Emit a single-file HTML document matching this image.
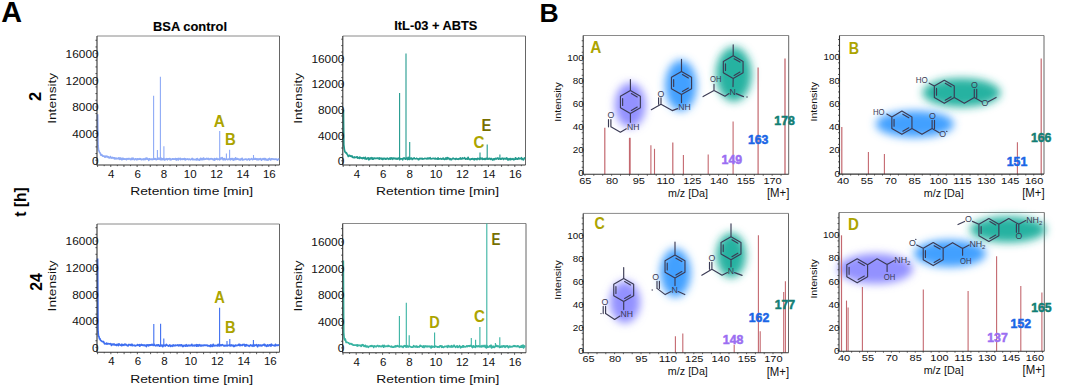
<!DOCTYPE html>
<html><head><meta charset="utf-8"><style>
html,body{margin:0;padding:0;background:#fff;overflow:hidden}
svg{display:block}
text{font-family:"Liberation Sans", sans-serif}
</style></head><body>
<svg width="1065" height="386" viewBox="0 0 1065 386">
<defs><filter id="blur" x="-50%" y="-50%" width="200%" height="200%"><feGaussianBlur stdDeviation="4.0"/></filter></defs>
<text x="1.30" y="22.00" font-size="29.5" text-anchor="start" font-weight="bold" fill="#000" textLength="20.80" lengthAdjust="spacingAndGlyphs">A</text>
<text x="539.60" y="21.80" font-size="26.3" text-anchor="start" font-weight="bold" fill="#000" textLength="19.20" lengthAdjust="spacingAndGlyphs">B</text>
<text x="153.00" y="31.00" font-size="13" text-anchor="start" font-weight="bold" fill="#000" stroke="#000" stroke-width="0.15" textLength="74.00" lengthAdjust="spacingAndGlyphs">BSA control</text>
<text x="394.30" y="30.10" font-size="13" text-anchor="start" font-weight="bold" fill="#000" stroke="#000" stroke-width="0.15" textLength="83.00" lengthAdjust="spacingAndGlyphs">ItL-03 + ABTS</text>
<text x="0" y="0" font-size="16.5" text-anchor="middle" font-weight="bold" fill="#000" transform="translate(41.30,96.50) rotate(-90)">2</text>
<text x="0" y="0" font-size="16.5" text-anchor="middle" font-weight="bold" fill="#000" transform="translate(41.80,282.00) rotate(-90)" textLength="17.50" lengthAdjust="spacingAndGlyphs">24</text>
<text x="0" y="0" font-size="16" text-anchor="middle" font-weight="bold" fill="#000" transform="translate(26.00,202.00) rotate(-90)" textLength="29.40" lengthAdjust="spacingAndGlyphs">t [h]</text>
<path d="M97,36 H279.5" fill="none" stroke="#8a8a8a" stroke-width="1"/><path d="M279.5,36 V165" fill="none" stroke="#666" stroke-width="1"/>
<path d="M97.60,114.20 L98.00,145.20 98.50,150.03 99.00,150.97 99.49,152.20 99.99,152.76 100.49,153.96 100.99,155.16 101.49,154.70 101.99,155.03 102.49,155.91 102.98,156.13 103.48,156.25 103.98,155.94 104.48,156.58 104.98,157.11 105.48,156.24 105.98,156.82 106.48,156.22 106.97,156.64 107.47,156.47 107.97,157.37 108.47,156.95 108.97,157.80 109.47,157.82 109.97,157.72 110.46,156.63 110.96,157.68 111.46,157.99 111.96,158.13 112.46,157.36 112.96,157.94 113.46,157.74 113.95,157.88 114.45,158.86 114.95,157.96 115.45,158.39 115.95,158.89 116.45,158.19 116.95,158.46 117.45,158.61 117.94,158.62 118.44,158.00 118.94,158.68 119.44,159.35 119.94,157.92 120.44,159.15 120.94,158.80 121.43,158.44 121.93,159.79 122.43,159.19 122.93,158.23 123.43,158.88 123.93,159.15 124.43,158.78 124.92,159.24 125.42,158.88 125.92,159.26 126.42,159.66 126.92,158.61 127.42,159.06 127.92,158.74 128.41,159.05 128.91,158.40 129.41,158.71 129.91,158.92 130.41,159.47 130.91,159.60 131.41,158.38 131.91,158.65 132.40,159.38 132.90,158.07 133.40,158.84 133.90,159.03 134.40,159.71 134.90,159.43 135.40,158.93 135.89,158.91 136.39,158.98 136.89,159.87 137.39,158.90 137.89,158.96 138.39,159.30 138.89,159.06 139.38,159.03 139.88,158.57 140.38,159.13 140.88,158.92 141.38,159.72 141.88,159.47 142.38,159.13 142.88,159.48 143.37,158.98 143.87,159.68 144.37,159.15 144.87,159.45 145.37,158.51 145.87,159.34 146.37,158.32 146.86,158.15 147.36,159.02 147.86,158.72 148.36,159.25 148.86,160.29 149.36,158.76 149.86,158.86 150.35,159.28 150.85,159.42 151.35,159.09 151.85,159.08 152.35,159.53 152.85,159.44 153.35,158.67 153.84,159.14 154.34,159.20 154.84,158.66 155.34,159.32 155.84,158.76 156.34,159.67 156.84,159.28 157.34,159.23 157.83,158.89 158.33,159.13 158.83,158.19 159.33,158.62 159.83,159.37 160.33,158.13 160.83,159.61 161.32,158.32 161.82,159.57 162.32,158.77 162.82,159.58 163.32,159.26 163.82,158.43 164.32,159.82 164.81,159.92 165.31,159.16 165.81,159.06 166.31,159.12 166.81,158.71 167.31,159.74 167.81,158.92 168.30,159.17 168.80,158.80 169.30,158.88 169.80,158.56 170.30,159.83 170.80,159.12 171.30,159.68 171.80,159.20 172.29,158.85 172.79,159.03 173.29,158.92 173.79,159.20 174.29,159.01 174.79,159.05 175.29,158.51 175.78,158.79 176.28,160.03 176.78,158.86 177.28,158.67 177.78,159.37 178.28,159.90 178.78,158.47 179.27,159.09 179.77,158.88 180.27,158.32 180.77,159.57 181.27,159.19 181.77,159.23 182.27,158.82 182.77,159.43 183.26,158.93 183.76,159.13 184.26,158.65 184.76,158.59 185.26,159.87 185.76,158.95 186.26,159.35 186.75,159.18 187.25,158.98 187.75,158.95 188.25,159.51 188.75,159.05 189.25,159.12 189.75,159.21 190.24,159.79 190.74,159.54 191.24,159.39 191.74,158.92 192.24,158.51 192.74,159.67 193.24,159.68 193.73,159.13 194.23,159.47 194.73,159.59 195.23,159.62 195.73,159.66 196.23,158.97 196.73,159.96 197.23,158.58 197.72,159.63 198.22,159.45 198.72,159.64 199.22,160.14 199.72,159.94 200.22,158.63 200.72,158.36 201.21,159.61 201.71,158.69 202.21,159.19 202.71,159.62 203.21,158.38 203.71,158.14 204.21,159.33 204.70,159.22 205.20,159.08 205.70,159.22 206.20,158.77 206.70,158.44 207.20,159.12 207.70,158.71 208.20,158.38 208.69,159.45 209.19,159.17 209.69,159.40 210.19,158.71 210.69,158.87 211.19,158.70 211.69,158.76 212.18,159.30 212.68,158.81 213.18,159.38 213.68,159.37 214.18,160.21 214.68,158.50 215.18,159.64 215.67,159.16 216.17,159.19 216.67,158.48 217.17,158.97 217.67,159.57 218.17,159.16 218.67,159.24 219.16,159.05 219.66,159.78 220.16,159.19 220.66,158.10 221.16,158.85 221.66,158.22 222.16,157.57 222.66,158.93 223.15,159.87 223.65,159.22 224.15,158.61 224.65,158.73 225.15,159.77 225.65,159.28 226.15,159.22 226.64,159.17 227.14,159.22 227.64,159.60 228.14,159.48 228.64,159.31 229.14,158.68 229.64,159.46 230.13,158.86 230.63,159.75 231.13,158.56 231.63,159.13 232.13,159.20 232.63,158.54 233.13,160.06 233.62,159.93 234.12,158.97 234.62,159.59 235.12,159.39 235.62,157.89 236.12,159.33 236.62,159.17 237.12,159.24 237.61,158.66 238.11,159.07 238.61,159.11 239.11,159.79 239.61,159.37 240.11,159.20 240.61,159.96 241.10,158.92 241.60,159.01 242.10,158.29 242.60,159.98 243.10,159.68 243.60,159.66 244.10,159.53 244.59,159.26 245.09,159.31 245.59,159.07 246.09,159.10 246.59,159.23 247.09,159.96 247.59,159.48 248.09,159.17 248.58,158.91 249.08,158.88 249.58,160.00 250.08,159.45 250.58,159.23 251.08,159.03 251.58,158.65 252.07,159.17 252.57,159.64 253.07,159.00 253.57,159.09 254.07,159.09 254.57,159.25 255.07,158.40 255.56,159.08 256.06,158.77 256.56,159.64 257.06,158.81 257.56,159.49 258.06,159.96 258.56,159.04 259.05,158.90 259.55,159.30 260.05,159.20 260.55,158.70 261.05,159.43 261.55,160.21 262.05,159.07 262.55,159.10 263.04,158.68 263.54,159.36 264.04,158.58 264.54,158.65 265.04,159.84 265.54,158.75 266.04,159.74 266.53,159.96 267.03,159.33 267.53,159.48 268.03,160.18 268.53,159.10 269.03,158.90 269.53,158.52 270.02,159.22 270.52,159.94 271.02,159.68 271.52,158.73 272.02,158.77 272.52,158.95 273.02,159.35 273.52,159.10 274.01,159.31 274.51,159.35 275.01,159.05 275.51,159.18 276.01,159.30 276.51,159.16 277.01,159.45 277.50,160.14 278.00,159.50 278.50,159.23 279.00,158.36" fill="none" stroke="#8eaaf6" stroke-width="1.7" stroke-linejoin="round"/>
<path d="M153.60,159.70 V95.80" stroke="#8eaaf6" stroke-width="1.1" fill="none"/>
<path d="M157.40,159.70 V150.00" stroke="#8eaaf6" stroke-width="1.1" fill="none"/>
<path d="M160.40,159.70 V76.80" stroke="#8eaaf6" stroke-width="1.1" fill="none"/>
<path d="M163.90,159.70 V146.30" stroke="#8eaaf6" stroke-width="1.1" fill="none"/>
<path d="M219.70,159.70 V131.10" stroke="#8eaaf6" stroke-width="1.1" fill="none"/>
<path d="M226.40,159.70 V153.50" stroke="#8eaaf6" stroke-width="1.1" fill="none"/>
<path d="M229.60,159.70 V149.70" stroke="#8eaaf6" stroke-width="1.1" fill="none"/>
<path d="M253.50,159.70 V155.00" stroke="#8eaaf6" stroke-width="1.1" fill="none"/>
<path d="M97,36 V165 H279.5" fill="none" stroke="#333" stroke-width="1.1"/>
<path d="M97.60,165 v2.0 M104.18,165 v1.2 M110.77,165 v2.0 M117.35,165 v1.2 M123.94,165 v2.0 M130.52,165 v1.2 M137.11,165 v2.0 M143.69,165 v1.2 M150.28,165 v2.0 M156.87,165 v1.2 M163.45,165 v2.0 M170.03,165 v1.2 M176.62,165 v2.0 M183.20,165 v1.2 M189.79,165 v2.0 M196.38,165 v1.2 M202.96,165 v2.0 M209.54,165 v1.2 M216.13,165 v2.0 M222.71,165 v1.2 M229.30,165 v2.0 M235.88,165 v1.2 M242.47,165 v2.0 M249.06,165 v1.2 M255.64,165 v2.0 M262.23,165 v1.2 M268.81,165 v2.0 M275.39,165 v1.2 M97,160.20 h-1.6 M97,153.54 h-1.6 M97,146.88 h-1.6 M97,140.21 h-1.6 M97,133.55 h-1.6 M97,126.89 h-1.6 M97,120.23 h-1.6 M97,113.56 h-1.6 M97,106.90 h-1.6 M97,100.24 h-1.6 M97,93.58 h-1.6 M97,86.91 h-1.6 M97,80.25 h-1.6 M97,73.59 h-1.6 M97,66.93 h-1.6 M97,60.26 h-1.6 M97,53.60 h-1.6 M97,46.94 h-1.6 M97,40.28 h-1.6 " stroke="#333" stroke-width="0.8" fill="none"/>
<text x="98.60" y="164.50" font-size="10.3" text-anchor="end" fill="#111" textLength="6.60" lengthAdjust="spacingAndGlyphs">0</text>
<text x="98.60" y="137.85" font-size="10.3" text-anchor="end" fill="#111" textLength="26.40" lengthAdjust="spacingAndGlyphs">4000</text>
<text x="98.60" y="111.20" font-size="10.3" text-anchor="end" fill="#111" textLength="26.40" lengthAdjust="spacingAndGlyphs">8000</text>
<text x="98.60" y="84.55" font-size="10.3" text-anchor="end" fill="#111" textLength="33.00" lengthAdjust="spacingAndGlyphs">12000</text>
<text x="98.60" y="57.90" font-size="10.3" text-anchor="end" fill="#111" textLength="33.00" lengthAdjust="spacingAndGlyphs">16000</text>
<text x="111.27" y="178.20" font-size="10.3" text-anchor="middle" fill="#111" textLength="6.40" lengthAdjust="spacingAndGlyphs">4</text>
<text x="137.61" y="178.20" font-size="10.3" text-anchor="middle" fill="#111" textLength="6.40" lengthAdjust="spacingAndGlyphs">6</text>
<text x="163.95" y="178.20" font-size="10.3" text-anchor="middle" fill="#111" textLength="6.40" lengthAdjust="spacingAndGlyphs">8</text>
<text x="190.29" y="178.20" font-size="10.3" text-anchor="middle" fill="#111" textLength="12.80" lengthAdjust="spacingAndGlyphs">10</text>
<text x="216.63" y="178.20" font-size="10.3" text-anchor="middle" fill="#111" textLength="12.80" lengthAdjust="spacingAndGlyphs">12</text>
<text x="242.97" y="178.20" font-size="10.3" text-anchor="middle" fill="#111" textLength="12.80" lengthAdjust="spacingAndGlyphs">14</text>
<text x="269.31" y="178.20" font-size="10.3" text-anchor="middle" fill="#111" textLength="12.80" lengthAdjust="spacingAndGlyphs">16</text>
<text x="191.65" y="195.40" font-size="10.5" text-anchor="middle" fill="#111" textLength="123.00" lengthAdjust="spacingAndGlyphs">Retention time [min]</text>
<text x="0" y="0" font-size="10.3" text-anchor="middle" fill="#111" transform="translate(56.00,98.30) rotate(-90)" textLength="51.00" lengthAdjust="spacingAndGlyphs">Intensity</text>
<text x="213.80" y="126.90" font-size="16" text-anchor="start" font-weight="bold" fill="#aca400" textLength="11.10" lengthAdjust="spacingAndGlyphs">A</text>
<text x="224.90" y="144.60" font-size="16" text-anchor="start" font-weight="bold" fill="#aca400" textLength="10.80" lengthAdjust="spacingAndGlyphs">B</text>
<path d="M342.8,36 H525.5" fill="none" stroke="#8a8a8a" stroke-width="1"/><path d="M525.5,36 V165" fill="none" stroke="#666" stroke-width="1"/>
<path d="M343.40,109.80 L343.80,144.80 344.30,149.06 344.80,151.45 345.30,152.39 345.80,152.78 346.30,152.68 346.79,153.90 347.29,154.21 347.79,155.26 348.29,156.40 348.79,155.66 349.29,155.41 349.79,155.43 350.29,156.17 350.79,156.28 351.29,155.94 351.79,156.71 352.29,156.20 352.78,157.45 353.28,157.53 353.78,157.63 354.28,156.94 354.78,157.52 355.28,157.28 355.78,157.22 356.28,157.32 356.78,156.91 357.28,156.90 357.78,158.07 358.28,157.64 358.77,157.89 359.27,158.34 359.77,157.02 360.27,157.54 360.77,158.06 361.27,158.21 361.77,157.86 362.27,158.60 362.77,158.23 363.27,157.55 363.77,157.72 364.27,158.62 364.76,158.48 365.26,157.32 365.76,158.97 366.26,158.62 366.76,159.02 367.26,158.17 367.76,158.24 368.26,157.84 368.76,159.70 369.26,158.36 369.76,159.26 370.26,158.16 370.75,158.58 371.25,157.67 371.75,158.33 372.25,159.03 372.75,157.92 373.25,159.10 373.75,158.74 374.25,158.06 374.75,158.34 375.25,158.38 375.75,158.59 376.25,158.36 376.74,158.22 377.24,158.49 377.74,158.13 378.24,158.01 378.74,158.64 379.24,159.11 379.74,157.91 380.24,158.68 380.74,158.36 381.24,158.20 381.74,159.12 382.24,158.44 382.73,159.46 383.23,158.32 383.73,158.91 384.23,158.61 384.73,158.35 385.23,159.02 385.73,158.65 386.23,159.04 386.73,158.71 387.23,158.20 387.73,158.69 388.23,158.77 388.73,159.23 389.22,158.30 389.72,158.73 390.22,157.90 390.72,159.08 391.22,158.22 391.72,157.86 392.22,158.73 392.72,159.32 393.22,158.01 393.72,158.23 394.22,158.40 394.72,158.21 395.21,158.96 395.71,158.37 396.21,158.42 396.71,159.07 397.21,158.40 397.71,159.00 398.21,158.29 398.71,158.18 399.21,157.86 399.71,159.71 400.21,158.62 400.71,158.91 401.20,158.77 401.70,158.87 402.20,158.81 402.70,159.74 403.20,158.27 403.70,158.01 404.20,158.28 404.70,158.12 405.20,159.16 405.70,159.20 406.20,158.31 406.70,158.10 407.19,158.61 407.69,159.49 408.19,157.38 408.69,159.06 409.19,158.26 409.69,159.31 410.19,158.26 410.69,158.65 411.19,158.04 411.69,158.31 412.19,159.49 412.69,159.21 413.18,158.59 413.68,158.36 414.18,157.85 414.68,158.60 415.18,158.78 415.68,158.75 416.18,158.75 416.68,158.24 417.18,158.76 417.68,158.78 418.18,159.44 418.68,159.73 419.17,158.73 419.67,158.41 420.17,158.77 420.67,158.49 421.17,158.43 421.67,158.77 422.17,158.28 422.67,159.10 423.17,158.75 423.67,158.92 424.17,158.71 424.67,158.43 425.16,158.32 425.66,158.68 426.16,158.52 426.66,158.92 427.16,158.80 427.66,158.12 428.16,158.83 428.66,158.13 429.16,158.49 429.66,158.65 430.16,157.76 430.66,158.84 431.15,158.87 431.65,158.72 432.15,158.59 432.65,158.61 433.15,158.31 433.65,158.66 434.15,158.52 434.65,158.85 435.15,158.20 435.65,158.92 436.15,158.87 436.65,158.73 437.15,158.58 437.64,159.08 438.14,157.97 438.64,159.03 439.14,158.92 439.64,158.94 440.14,158.99 440.64,158.47 441.14,158.67 441.64,159.12 442.14,159.02 442.64,158.90 443.14,158.04 443.63,159.07 444.13,159.38 444.63,159.30 445.13,158.92 445.63,158.02 446.13,159.27 446.63,158.73 447.13,157.53 447.63,158.99 448.13,158.05 448.63,158.15 449.13,158.48 449.62,159.44 450.12,158.61 450.62,158.94 451.12,159.67 451.62,159.60 452.12,158.75 452.62,158.68 453.12,158.17 453.62,158.45 454.12,159.01 454.62,159.00 455.12,158.86 455.61,159.30 456.11,158.41 456.61,158.77 457.11,159.17 457.61,159.09 458.11,159.34 458.61,159.00 459.11,158.65 459.61,158.98 460.11,158.30 460.61,157.98 461.11,159.09 461.60,158.77 462.10,158.95 462.60,157.95 463.10,158.62 463.60,158.50 464.10,158.37 464.60,157.67 465.10,158.63 465.60,159.25 466.10,158.99 466.60,158.50 467.10,158.79 467.59,159.18 468.09,157.42 468.59,158.74 469.09,159.07 469.59,159.14 470.09,159.65 470.59,159.37 471.09,158.96 471.59,158.95 472.09,159.19 472.59,158.53 473.09,158.78 473.58,159.25 474.08,159.78 474.58,158.72 475.08,158.78 475.58,158.90 476.08,159.47 476.58,158.78 477.08,159.53 477.58,158.32 478.08,158.71 478.58,158.70 479.08,159.19 479.57,159.32 480.07,158.05 480.57,158.34 481.07,158.97 481.57,158.47 482.07,158.04 482.57,159.32 483.07,159.05 483.57,159.05 484.07,158.56 484.57,159.31 485.07,158.68 485.57,159.35 486.06,158.34 486.56,158.37 487.06,158.90 487.56,158.45 488.06,159.14 488.56,158.93 489.06,158.34 489.56,158.84 490.06,158.62 490.56,159.26 491.06,158.48 491.56,158.58 492.05,159.41 492.55,159.92 493.05,159.80 493.55,158.83 494.05,158.91 494.55,159.57 495.05,158.74 495.55,158.31 496.05,158.86 496.55,159.03 497.05,158.39 497.55,157.98 498.04,158.08 498.54,159.13 499.04,158.42 499.54,158.73 500.04,158.91 500.54,159.11 501.04,158.63 501.54,159.05 502.04,158.35 502.54,158.62 503.04,158.29 503.54,159.37 504.03,158.79 504.53,158.43 505.03,158.62 505.53,158.69 506.03,159.15 506.53,158.00 507.03,158.28 507.53,158.61 508.03,160.07 508.53,159.28 509.03,158.74 509.53,159.16 510.02,159.83 510.52,158.68 511.02,158.62 511.52,159.41 512.02,159.05 512.52,159.14 513.02,158.55 513.52,159.76 514.02,159.65 514.52,159.08 515.02,159.14 515.52,157.79 516.01,159.12 516.51,158.70 517.01,159.02 517.51,159.14 518.01,158.63 518.51,157.95 519.01,158.98 519.51,158.43 520.01,158.63 520.51,158.50 521.01,158.63 521.51,157.65 522.00,159.41 522.50,158.93 523.00,159.36 523.50,159.79 524.00,158.81 524.50,157.90 525.00,158.35" fill="none" stroke="#229a8e" stroke-width="1.7" stroke-linejoin="round"/>
<path d="M399.60,159.30 V92.90" stroke="#229a8e" stroke-width="1.1" fill="none"/>
<path d="M406.00,159.30 V53.50" stroke="#229a8e" stroke-width="1.1" fill="none"/>
<path d="M409.70,159.30 V142.00" stroke="#229a8e" stroke-width="1.1" fill="none"/>
<path d="M480.00,159.30 V152.60" stroke="#229a8e" stroke-width="1.1" fill="none"/>
<path d="M487.20,159.30 V144.50" stroke="#229a8e" stroke-width="1.1" fill="none"/>
<path d="M499.90,159.30 V154.40" stroke="#229a8e" stroke-width="1.1" fill="none"/>
<path d="M342.8,36 V165 H525.5" fill="none" stroke="#333" stroke-width="1.1"/>
<path d="M343.20,165 v2.0 M349.80,165 v1.2 M356.40,165 v2.0 M363.00,165 v1.2 M369.60,165 v2.0 M376.20,165 v1.2 M382.80,165 v2.0 M389.40,165 v1.2 M396.00,165 v2.0 M402.60,165 v1.2 M409.20,165 v2.0 M415.80,165 v1.2 M422.40,165 v2.0 M429.00,165 v1.2 M435.60,165 v2.0 M442.20,165 v1.2 M448.80,165 v2.0 M455.40,165 v1.2 M462.00,165 v2.0 M468.60,165 v1.2 M475.20,165 v2.0 M481.80,165 v1.2 M488.40,165 v2.0 M495.00,165 v1.2 M501.60,165 v2.0 M508.20,165 v1.2 M514.80,165 v2.0 M521.40,165 v1.2 M342.8,160.80 h-1.6 M342.8,154.40 h-1.6 M342.8,148.00 h-1.6 M342.8,141.60 h-1.6 M342.8,135.20 h-1.6 M342.8,128.80 h-1.6 M342.8,122.40 h-1.6 M342.8,116.00 h-1.6 M342.8,109.60 h-1.6 M342.8,103.20 h-1.6 M342.8,96.80 h-1.6 M342.8,90.40 h-1.6 M342.8,84.00 h-1.6 M342.8,77.60 h-1.6 M342.8,71.20 h-1.6 M342.8,64.80 h-1.6 M342.8,58.40 h-1.6 M342.8,52.00 h-1.6 M342.8,45.60 h-1.6 M342.8,39.20 h-1.6 " stroke="#333" stroke-width="0.8" fill="none"/>
<text x="344.40" y="165.10" font-size="10.3" text-anchor="end" fill="#111" textLength="6.60" lengthAdjust="spacingAndGlyphs">0</text>
<text x="344.40" y="139.50" font-size="10.3" text-anchor="end" fill="#111" textLength="26.40" lengthAdjust="spacingAndGlyphs">4000</text>
<text x="344.40" y="113.90" font-size="10.3" text-anchor="end" fill="#111" textLength="26.40" lengthAdjust="spacingAndGlyphs">8000</text>
<text x="344.40" y="88.30" font-size="10.3" text-anchor="end" fill="#111" textLength="33.00" lengthAdjust="spacingAndGlyphs">12000</text>
<text x="344.40" y="62.70" font-size="10.3" text-anchor="end" fill="#111" textLength="33.00" lengthAdjust="spacingAndGlyphs">16000</text>
<text x="356.90" y="178.20" font-size="10.3" text-anchor="middle" fill="#111" textLength="6.40" lengthAdjust="spacingAndGlyphs">4</text>
<text x="383.30" y="178.20" font-size="10.3" text-anchor="middle" fill="#111" textLength="6.40" lengthAdjust="spacingAndGlyphs">6</text>
<text x="409.70" y="178.20" font-size="10.3" text-anchor="middle" fill="#111" textLength="6.40" lengthAdjust="spacingAndGlyphs">8</text>
<text x="436.10" y="178.20" font-size="10.3" text-anchor="middle" fill="#111" textLength="12.80" lengthAdjust="spacingAndGlyphs">10</text>
<text x="462.50" y="178.20" font-size="10.3" text-anchor="middle" fill="#111" textLength="12.80" lengthAdjust="spacingAndGlyphs">12</text>
<text x="488.90" y="178.20" font-size="10.3" text-anchor="middle" fill="#111" textLength="12.80" lengthAdjust="spacingAndGlyphs">14</text>
<text x="515.30" y="178.20" font-size="10.3" text-anchor="middle" fill="#111" textLength="12.80" lengthAdjust="spacingAndGlyphs">16</text>
<text x="437.55" y="195.40" font-size="10.5" text-anchor="middle" fill="#111" textLength="123.00" lengthAdjust="spacingAndGlyphs">Retention time [min]</text>
<text x="0" y="0" font-size="10.3" text-anchor="middle" fill="#111" transform="translate(301.80,98.30) rotate(-90)" textLength="51.00" lengthAdjust="spacingAndGlyphs">Intensity</text>
<text x="481.40" y="131.20" font-size="16" text-anchor="start" font-weight="bold" fill="#776f00" textLength="9.80" lengthAdjust="spacingAndGlyphs">E</text>
<text x="473.60" y="147.50" font-size="16" text-anchor="start" font-weight="bold" fill="#aca400" textLength="10.90" lengthAdjust="spacingAndGlyphs">C</text>
<path d="M97,224 H279.5" fill="none" stroke="#8a8a8a" stroke-width="1"/><path d="M279.5,224 V352.2" fill="none" stroke="#666" stroke-width="1"/>
<path d="M97.60,258.40 L98.00,331.40 98.50,336.40 99.00,336.62 99.49,338.80 99.99,338.70 100.49,340.28 100.99,340.63 101.49,340.99 101.99,341.50 102.49,341.60 102.98,341.84 103.48,341.55 103.98,342.59 104.48,343.72 104.98,343.95 105.48,343.77 105.98,343.60 106.48,343.04 106.97,344.21 107.47,343.56 107.97,343.65 108.47,343.63 108.97,343.91 109.47,343.73 109.97,343.98 110.46,343.54 110.96,343.97 111.46,345.36 111.96,344.24 112.46,344.21 112.96,344.65 113.46,344.79 113.95,343.92 114.45,344.42 114.95,345.03 115.45,344.74 115.95,344.71 116.45,345.46 116.95,344.38 117.45,344.79 117.94,344.52 118.44,345.56 118.94,343.87 119.44,344.53 119.94,344.63 120.44,345.25 120.94,345.25 121.43,345.66 121.93,344.20 122.43,345.38 122.93,344.88 123.43,344.71 123.93,345.33 124.43,344.62 124.92,344.06 125.42,344.92 125.92,344.37 126.42,344.81 126.92,345.33 127.42,345.32 127.92,345.97 128.41,345.08 128.91,344.43 129.41,344.83 129.91,344.75 130.41,344.61 130.91,345.45 131.41,344.92 131.91,344.26 132.40,345.60 132.90,345.21 133.40,345.45 133.90,345.33 134.40,345.60 134.90,345.31 135.40,345.91 135.89,345.51 136.39,345.50 136.89,345.51 137.39,344.58 137.89,345.23 138.39,345.19 138.89,345.43 139.38,344.65 139.88,346.15 140.38,345.39 140.88,344.73 141.38,344.49 141.88,345.20 142.38,345.30 142.88,344.99 143.37,345.40 143.87,345.03 144.37,345.63 144.87,345.00 145.37,345.34 145.87,345.85 146.37,346.65 146.86,344.86 147.36,345.14 147.86,344.95 148.36,345.76 148.86,344.80 149.36,345.13 149.86,345.36 150.35,344.89 150.85,344.90 151.35,345.14 151.85,344.33 152.35,344.66 152.85,345.17 153.35,345.46 153.84,345.29 154.34,344.50 154.84,345.15 155.34,345.78 155.84,345.66 156.34,345.35 156.84,344.94 157.34,345.70 157.83,345.10 158.33,344.80 158.83,344.99 159.33,346.11 159.83,345.50 160.33,345.97 160.83,345.15 161.32,345.86 161.82,345.09 162.32,345.31 162.82,346.64 163.32,345.78 163.82,345.14 164.32,345.35 164.81,345.56 165.31,346.00 165.81,345.15 166.31,344.52 166.81,345.26 167.31,345.40 167.81,345.45 168.30,346.05 168.80,345.55 169.30,345.80 169.80,344.85 170.30,345.83 170.80,346.44 171.30,345.78 171.80,345.52 172.29,345.47 172.79,346.29 173.29,344.93 173.79,345.34 174.29,345.63 174.79,345.77 175.29,345.18 175.78,345.55 176.28,345.26 176.78,345.46 177.28,345.33 177.78,344.83 178.28,345.39 178.78,345.84 179.27,344.92 179.77,345.28 180.27,345.73 180.77,344.86 181.27,345.49 181.77,344.87 182.27,345.97 182.77,346.56 183.26,346.41 183.76,345.29 184.26,345.77 184.76,345.46 185.26,345.45 185.76,346.17 186.26,344.74 186.75,345.93 187.25,345.37 187.75,346.10 188.25,345.49 188.75,345.06 189.25,345.54 189.75,345.77 190.24,345.42 190.74,345.64 191.24,345.14 191.74,344.33 192.24,345.85 192.74,345.75 193.24,345.47 193.73,345.43 194.23,345.92 194.73,345.17 195.23,345.05 195.73,345.31 196.23,345.99 196.73,344.71 197.23,346.00 197.72,345.08 198.22,344.85 198.72,346.03 199.22,345.35 199.72,344.75 200.22,345.22 200.72,345.87 201.21,346.00 201.71,345.19 202.21,345.60 202.71,345.76 203.21,345.08 203.71,345.58 204.21,345.38 204.70,345.13 205.20,345.15 205.70,345.43 206.20,345.41 206.70,345.12 207.20,345.19 207.70,345.96 208.20,345.51 208.69,345.84 209.19,346.00 209.69,345.69 210.19,346.54 210.69,344.99 211.19,345.80 211.69,345.24 212.18,346.33 212.68,346.25 213.18,344.42 213.68,344.92 214.18,345.73 214.68,345.79 215.18,345.77 215.67,345.36 216.17,345.63 216.67,345.73 217.17,345.36 217.67,345.91 218.17,344.27 218.67,345.72 219.16,344.88 219.66,345.88 220.16,345.29 220.66,344.96 221.16,345.59 221.66,344.94 222.16,344.94 222.66,344.62 223.15,345.39 223.65,345.65 224.15,345.91 224.65,345.33 225.15,345.92 225.65,345.41 226.15,345.35 226.64,345.69 227.14,345.93 227.64,345.23 228.14,345.28 228.64,345.32 229.14,345.44 229.64,344.95 230.13,345.91 230.63,345.20 231.13,345.63 231.63,344.99 232.13,345.58 232.63,345.60 233.13,345.19 233.62,346.41 234.12,345.59 234.62,346.29 235.12,345.88 235.62,345.07 236.12,345.21 236.62,345.62 237.12,345.43 237.61,345.42 238.11,345.26 238.61,344.50 239.11,345.29 239.61,344.29 240.11,345.59 240.61,345.04 241.10,345.04 241.60,345.29 242.10,345.54 242.60,344.68 243.10,344.53 243.60,344.87 244.10,344.38 244.59,344.92 245.09,346.20 245.59,344.87 246.09,345.73 246.59,344.71 247.09,345.55 247.59,345.24 248.09,345.37 248.58,345.68 249.08,346.28 249.58,345.50 250.08,345.46 250.58,344.91 251.08,345.69 251.58,345.28 252.07,345.82 252.57,345.38 253.07,346.27 253.57,344.41 254.07,345.25 254.57,345.84 255.07,345.22 255.56,345.00 256.06,345.27 256.56,344.71 257.06,345.46 257.56,346.62 258.06,345.97 258.56,344.85 259.05,344.96 259.55,345.20 260.05,345.90 260.55,344.99 261.05,345.05 261.55,345.84 262.05,345.83 262.55,345.21 263.04,344.84 263.54,344.63 264.04,345.05 264.54,344.28 265.04,345.77 265.54,345.08 266.04,345.64 266.53,346.33 267.03,345.99 267.53,344.82 268.03,345.83 268.53,345.98 269.03,345.03 269.53,344.92 270.02,345.35 270.52,344.60 271.02,346.14 271.52,344.20 272.02,344.85 272.52,345.27 273.02,345.29 273.52,345.48 274.01,345.54 274.51,345.29 275.01,345.97 275.51,344.33 276.01,345.40 276.51,345.04 277.01,345.47 277.50,345.51 278.00,344.94 278.50,345.08 279.00,345.80" fill="none" stroke="#3f6ff0" stroke-width="1.7" stroke-linejoin="round"/>
<path d="M153.80,345.90 V324.10" stroke="#3f6ff0" stroke-width="1.1" fill="none"/>
<path d="M160.60,345.90 V323.70" stroke="#3f6ff0" stroke-width="1.1" fill="none"/>
<path d="M163.80,345.90 V338.40" stroke="#3f6ff0" stroke-width="1.1" fill="none"/>
<path d="M219.60,345.90 V307.80" stroke="#3f6ff0" stroke-width="1.1" fill="none"/>
<path d="M227.00,345.90 V341.00" stroke="#3f6ff0" stroke-width="1.1" fill="none"/>
<path d="M229.80,345.90 V339.00" stroke="#3f6ff0" stroke-width="1.1" fill="none"/>
<path d="M253.40,345.90 V340.00" stroke="#3f6ff0" stroke-width="1.1" fill="none"/>
<path d="M97,224 V352.2 H279.5" fill="none" stroke="#333" stroke-width="1.1"/>
<path d="M97.60,352.2 v2.0 M104.22,352.2 v1.2 M110.85,352.2 v2.0 M117.47,352.2 v1.2 M124.10,352.2 v2.0 M130.72,352.2 v1.2 M137.35,352.2 v2.0 M143.97,352.2 v1.2 M150.60,352.2 v2.0 M157.22,352.2 v1.2 M163.85,352.2 v2.0 M170.47,352.2 v1.2 M177.10,352.2 v2.0 M183.72,352.2 v1.2 M190.35,352.2 v2.0 M196.97,352.2 v1.2 M203.60,352.2 v2.0 M210.22,352.2 v1.2 M216.85,352.2 v2.0 M223.47,352.2 v1.2 M230.10,352.2 v2.0 M236.72,352.2 v1.2 M243.35,352.2 v2.0 M249.97,352.2 v1.2 M256.60,352.2 v2.0 M263.23,352.2 v1.2 M269.85,352.2 v2.0 M276.48,352.2 v1.2 M97,347.40 h-1.6 M97,340.75 h-1.6 M97,334.10 h-1.6 M97,327.45 h-1.6 M97,320.80 h-1.6 M97,314.15 h-1.6 M97,307.50 h-1.6 M97,300.85 h-1.6 M97,294.20 h-1.6 M97,287.55 h-1.6 M97,280.90 h-1.6 M97,274.25 h-1.6 M97,267.60 h-1.6 M97,260.95 h-1.6 M97,254.30 h-1.6 M97,247.65 h-1.6 M97,241.00 h-1.6 M97,234.35 h-1.6 M97,227.70 h-1.6 " stroke="#333" stroke-width="0.8" fill="none"/>
<text x="98.60" y="351.70" font-size="10.3" text-anchor="end" fill="#111" textLength="6.60" lengthAdjust="spacingAndGlyphs">0</text>
<text x="98.60" y="325.10" font-size="10.3" text-anchor="end" fill="#111" textLength="26.40" lengthAdjust="spacingAndGlyphs">4000</text>
<text x="98.60" y="298.50" font-size="10.3" text-anchor="end" fill="#111" textLength="26.40" lengthAdjust="spacingAndGlyphs">8000</text>
<text x="98.60" y="271.90" font-size="10.3" text-anchor="end" fill="#111" textLength="33.00" lengthAdjust="spacingAndGlyphs">12000</text>
<text x="98.60" y="245.30" font-size="10.3" text-anchor="end" fill="#111" textLength="33.00" lengthAdjust="spacingAndGlyphs">16000</text>
<text x="111.35" y="365.40" font-size="10.3" text-anchor="middle" fill="#111" textLength="6.40" lengthAdjust="spacingAndGlyphs">4</text>
<text x="137.85" y="365.40" font-size="10.3" text-anchor="middle" fill="#111" textLength="6.40" lengthAdjust="spacingAndGlyphs">6</text>
<text x="164.35" y="365.40" font-size="10.3" text-anchor="middle" fill="#111" textLength="6.40" lengthAdjust="spacingAndGlyphs">8</text>
<text x="190.85" y="365.40" font-size="10.3" text-anchor="middle" fill="#111" textLength="12.80" lengthAdjust="spacingAndGlyphs">10</text>
<text x="217.35" y="365.40" font-size="10.3" text-anchor="middle" fill="#111" textLength="12.80" lengthAdjust="spacingAndGlyphs">12</text>
<text x="243.85" y="365.40" font-size="10.3" text-anchor="middle" fill="#111" textLength="12.80" lengthAdjust="spacingAndGlyphs">14</text>
<text x="270.35" y="365.40" font-size="10.3" text-anchor="middle" fill="#111" textLength="12.80" lengthAdjust="spacingAndGlyphs">16</text>
<text x="191.65" y="382.60" font-size="10.5" text-anchor="middle" fill="#111" textLength="123.00" lengthAdjust="spacingAndGlyphs">Retention time [min]</text>
<text x="0" y="0" font-size="10.3" text-anchor="middle" fill="#111" transform="translate(56.00,285.90) rotate(-90)" textLength="51.00" lengthAdjust="spacingAndGlyphs">Intensity</text>
<text x="214.30" y="302.90" font-size="16" text-anchor="start" font-weight="bold" fill="#aca400" textLength="10.60" lengthAdjust="spacingAndGlyphs">A</text>
<text x="224.90" y="332.60" font-size="16" text-anchor="start" font-weight="bold" fill="#aca400" textLength="10.60" lengthAdjust="spacingAndGlyphs">B</text>
<path d="M342.7,223.5 H526" fill="none" stroke="#8a8a8a" stroke-width="1"/><path d="M526,223.5 V352.8" fill="none" stroke="#666" stroke-width="1"/>
<path d="M343.30,260.50 L343.70,332.50 344.20,338.49 344.70,339.88 345.20,339.01 345.70,340.71 346.20,342.49 346.70,342.18 347.20,342.36 347.70,342.54 348.19,342.70 348.69,343.15 349.19,343.22 349.69,344.08 350.19,343.70 350.69,343.85 351.19,343.62 351.69,344.33 352.19,344.03 352.69,344.50 353.19,345.22 353.69,344.98 354.19,345.14 354.69,345.15 355.19,345.08 355.69,345.06 356.19,345.04 356.69,345.64 357.18,344.78 357.68,346.05 358.18,345.45 358.68,345.11 359.18,345.29 359.68,345.24 360.18,345.71 360.68,345.31 361.18,346.28 361.68,345.36 362.18,344.65 362.68,345.46 363.18,344.85 363.68,345.87 364.18,346.45 364.68,346.27 365.18,345.30 365.68,345.62 366.17,346.91 366.67,346.20 367.17,346.07 367.67,346.62 368.17,347.33 368.67,346.78 369.17,346.22 369.67,346.34 370.17,346.49 370.67,345.89 371.17,345.68 371.67,346.25 372.17,345.76 372.67,346.22 373.17,346.31 373.67,347.44 374.17,345.86 374.67,346.23 375.16,346.22 375.66,346.53 376.16,346.85 376.66,346.09 377.16,345.93 377.66,345.53 378.16,345.89 378.66,346.63 379.16,346.39 379.66,345.87 380.16,346.20 380.66,346.40 381.16,346.64 381.66,346.10 382.16,346.28 382.66,345.50 383.16,345.84 383.66,347.23 384.16,345.33 384.65,346.26 385.15,346.54 385.65,346.24 386.15,346.03 386.65,346.41 387.15,346.44 387.65,346.40 388.15,345.51 388.65,346.38 389.15,346.02 389.65,346.18 390.15,346.57 390.65,346.78 391.15,346.91 391.65,346.21 392.15,346.93 392.65,347.05 393.15,347.04 393.64,347.16 394.14,346.40 394.64,346.39 395.14,346.89 395.64,345.79 396.14,346.58 396.64,346.21 397.14,346.29 397.64,345.61 398.14,346.04 398.64,346.47 399.14,346.93 399.64,346.98 400.14,346.44 400.64,346.39 401.14,346.07 401.64,346.69 402.14,346.36 402.63,346.79 403.13,347.36 403.63,346.47 404.13,345.74 404.63,346.06 405.13,345.76 405.63,345.89 406.13,347.14 406.63,346.60 407.13,345.73 407.63,346.82 408.13,347.12 408.63,346.31 409.13,346.16 409.63,346.33 410.13,346.64 410.63,346.81 411.13,347.09 411.62,347.10 412.12,347.09 412.62,347.18 413.12,346.83 413.62,345.73 414.12,346.43 414.62,346.65 415.12,346.30 415.62,346.95 416.12,346.32 416.62,346.03 417.12,347.22 417.62,346.83 418.12,346.61 418.62,346.96 419.12,347.03 419.62,346.67 420.12,345.27 420.62,346.16 421.11,346.27 421.61,346.01 422.11,346.60 422.61,347.09 423.11,346.26 423.61,345.93 424.11,347.51 424.61,346.27 425.11,345.88 425.61,346.62 426.11,346.71 426.61,346.15 427.11,346.89 427.61,346.26 428.11,346.04 428.61,346.59 429.11,346.88 429.61,346.18 430.10,346.66 430.60,346.45 431.10,347.91 431.60,346.15 432.10,347.19 432.60,346.47 433.10,346.44 433.60,346.86 434.10,346.95 434.60,347.13 435.10,346.66 435.60,346.20 436.10,346.23 436.60,346.75 437.10,346.79 437.60,347.20 438.10,346.71 438.60,347.03 439.09,347.26 439.59,346.58 440.09,345.76 440.59,345.91 441.09,345.78 441.59,347.30 442.09,346.08 442.59,347.12 443.09,346.79 443.59,347.36 444.09,347.00 444.59,346.45 445.09,346.40 445.59,346.54 446.09,346.59 446.59,346.23 447.09,346.48 447.59,347.30 448.08,345.65 448.58,346.63 449.08,346.05 449.58,346.59 450.08,346.92 450.58,346.47 451.08,346.89 451.58,345.70 452.08,347.05 452.58,346.20 453.08,346.81 453.58,346.59 454.08,345.21 454.58,346.12 455.08,346.61 455.58,347.28 456.08,346.64 456.58,346.63 457.08,345.79 457.57,347.22 458.07,347.40 458.57,346.51 459.07,346.39 459.57,345.69 460.07,346.94 460.57,347.85 461.07,346.86 461.57,347.13 462.07,346.77 462.57,346.01 463.07,347.17 463.57,345.88 464.07,346.39 464.57,346.64 465.07,346.94 465.57,346.71 466.07,346.69 466.56,346.12 467.06,345.86 467.56,346.53 468.06,346.14 468.56,345.85 469.06,345.87 469.56,346.25 470.06,345.57 470.56,345.83 471.06,345.68 471.56,346.59 472.06,346.70 472.56,347.50 473.06,345.75 473.56,346.16 474.06,346.96 474.56,346.39 475.06,346.34 475.55,347.35 476.05,346.33 476.55,345.92 477.05,345.84 477.55,346.67 478.05,346.65 478.55,345.81 479.05,346.01 479.55,346.77 480.05,346.79 480.55,346.18 481.05,346.81 481.55,346.79 482.05,345.61 482.55,346.34 483.05,346.71 483.55,346.21 484.05,345.43 484.54,346.36 485.04,346.88 485.54,347.29 486.04,345.40 486.54,347.81 487.04,345.94 487.54,346.98 488.04,347.12 488.54,346.99 489.04,346.57 489.54,345.92 490.04,346.81 490.54,346.14 491.04,345.24 491.54,347.91 492.04,346.85 492.54,347.41 493.04,346.04 493.54,347.23 494.03,347.29 494.53,347.28 495.03,346.49 495.53,345.90 496.03,346.41 496.53,345.40 497.03,345.65 497.53,346.55 498.03,346.00 498.53,346.42 499.03,346.45 499.53,347.47 500.03,347.15 500.53,346.48 501.03,347.10 501.53,346.11 502.03,346.33 502.53,346.96 503.02,345.88 503.52,346.36 504.02,345.84 504.52,346.56 505.02,347.32 505.52,346.12 506.02,346.61 506.52,346.05 507.02,345.93 507.52,345.88 508.02,347.23 508.52,347.68 509.02,346.74 509.52,346.14 510.02,346.85 510.52,346.33 511.02,346.90 511.52,346.65 512.01,346.64 512.51,346.80 513.01,346.21 513.51,346.30 514.01,345.64 514.51,346.28 515.01,345.79 515.51,346.43 516.01,346.02 516.51,346.55 517.01,346.73 517.51,345.79 518.01,346.09 518.51,346.03 519.01,346.87 519.51,347.35 520.01,346.93 520.51,346.33 521.00,347.23 521.50,345.74 522.00,347.25 522.50,346.17 523.00,345.11 523.50,347.83 524.00,347.29 524.50,345.98 525.00,346.58 525.50,346.39" fill="none" stroke="#38b3a2" stroke-width="1.7" stroke-linejoin="round"/>
<path d="M399.40,347.00 V316.10" stroke="#38b3a2" stroke-width="1.1" fill="none"/>
<path d="M406.30,347.00 V302.70" stroke="#38b3a2" stroke-width="1.1" fill="none"/>
<path d="M409.20,347.00 V335.30" stroke="#38b3a2" stroke-width="1.1" fill="none"/>
<path d="M434.60,347.00 V332.40" stroke="#38b3a2" stroke-width="1.1" fill="none"/>
<path d="M471.30,347.00 V337.90" stroke="#38b3a2" stroke-width="1.1" fill="none"/>
<path d="M475.60,347.00 V339.70" stroke="#38b3a2" stroke-width="1.1" fill="none"/>
<path d="M479.90,347.00 V327.00" stroke="#38b3a2" stroke-width="1.1" fill="none"/>
<path d="M486.80,347.00 V223.60" stroke="#38b3a2" stroke-width="1.1" fill="none"/>
<path d="M495.40,347.00 V343.00" stroke="#38b3a2" stroke-width="1.1" fill="none"/>
<path d="M499.80,347.00 V337.20" stroke="#38b3a2" stroke-width="1.1" fill="none"/>
<path d="M342.7,223.5 V352.8 H526" fill="none" stroke="#333" stroke-width="1.1"/>
<path d="M343.00,352.8 v2.0 M349.60,352.8 v1.2 M356.20,352.8 v2.0 M362.80,352.8 v1.2 M369.40,352.8 v2.0 M376.00,352.8 v1.2 M382.60,352.8 v2.0 M389.20,352.8 v1.2 M395.80,352.8 v2.0 M402.40,352.8 v1.2 M409.00,352.8 v2.0 M415.60,352.8 v1.2 M422.20,352.8 v2.0 M428.80,352.8 v1.2 M435.40,352.8 v2.0 M442.00,352.8 v1.2 M448.60,352.8 v2.0 M455.20,352.8 v1.2 M461.80,352.8 v2.0 M468.40,352.8 v1.2 M475.00,352.8 v2.0 M481.60,352.8 v1.2 M488.20,352.8 v2.0 M494.80,352.8 v1.2 M501.40,352.8 v2.0 M508.00,352.8 v1.2 M514.60,352.8 v2.0 M521.20,352.8 v1.2 M342.7,347.90 h-1.6 M342.7,341.27 h-1.6 M342.7,334.65 h-1.6 M342.7,328.02 h-1.6 M342.7,321.40 h-1.6 M342.7,314.77 h-1.6 M342.7,308.15 h-1.6 M342.7,301.52 h-1.6 M342.7,294.90 h-1.6 M342.7,288.27 h-1.6 M342.7,281.65 h-1.6 M342.7,275.02 h-1.6 M342.7,268.40 h-1.6 M342.7,261.77 h-1.6 M342.7,255.15 h-1.6 M342.7,248.52 h-1.6 M342.7,241.90 h-1.6 M342.7,235.27 h-1.6 M342.7,228.65 h-1.6 " stroke="#333" stroke-width="0.8" fill="none"/>
<text x="344.30" y="352.20" font-size="10.3" text-anchor="end" fill="#111" textLength="6.60" lengthAdjust="spacingAndGlyphs">0</text>
<text x="344.30" y="325.70" font-size="10.3" text-anchor="end" fill="#111" textLength="26.40" lengthAdjust="spacingAndGlyphs">4000</text>
<text x="344.30" y="299.20" font-size="10.3" text-anchor="end" fill="#111" textLength="26.40" lengthAdjust="spacingAndGlyphs">8000</text>
<text x="344.30" y="272.70" font-size="10.3" text-anchor="end" fill="#111" textLength="33.00" lengthAdjust="spacingAndGlyphs">12000</text>
<text x="344.30" y="246.20" font-size="10.3" text-anchor="end" fill="#111" textLength="33.00" lengthAdjust="spacingAndGlyphs">16000</text>
<text x="356.70" y="366.00" font-size="10.3" text-anchor="middle" fill="#111" textLength="6.40" lengthAdjust="spacingAndGlyphs">4</text>
<text x="383.10" y="366.00" font-size="10.3" text-anchor="middle" fill="#111" textLength="6.40" lengthAdjust="spacingAndGlyphs">6</text>
<text x="409.50" y="366.00" font-size="10.3" text-anchor="middle" fill="#111" textLength="6.40" lengthAdjust="spacingAndGlyphs">8</text>
<text x="435.90" y="366.00" font-size="10.3" text-anchor="middle" fill="#111" textLength="12.80" lengthAdjust="spacingAndGlyphs">10</text>
<text x="462.30" y="366.00" font-size="10.3" text-anchor="middle" fill="#111" textLength="12.80" lengthAdjust="spacingAndGlyphs">12</text>
<text x="488.70" y="366.00" font-size="10.3" text-anchor="middle" fill="#111" textLength="12.80" lengthAdjust="spacingAndGlyphs">14</text>
<text x="515.10" y="366.00" font-size="10.3" text-anchor="middle" fill="#111" textLength="12.80" lengthAdjust="spacingAndGlyphs">16</text>
<text x="437.75" y="383.20" font-size="10.5" text-anchor="middle" fill="#111" textLength="123.00" lengthAdjust="spacingAndGlyphs">Retention time [min]</text>
<text x="0" y="0" font-size="10.3" text-anchor="middle" fill="#111" transform="translate(301.70,285.95) rotate(-90)" textLength="51.00" lengthAdjust="spacingAndGlyphs">Intensity</text>
<text x="429.20" y="327.70" font-size="16" text-anchor="start" font-weight="bold" fill="#aca400" textLength="10.50" lengthAdjust="spacingAndGlyphs">D</text>
<text x="474.10" y="322.30" font-size="16" text-anchor="start" font-weight="bold" fill="#aca400" textLength="10.90" lengthAdjust="spacingAndGlyphs">C</text>
<text x="491.60" y="244.70" font-size="16" text-anchor="start" font-weight="bold" fill="#776f00" textLength="9.00" lengthAdjust="spacingAndGlyphs">E</text>
<path d="M583.2,35.5 H788.7" fill="none" stroke="#8a8a8a" stroke-width="1"/><path d="M788.7,35.5 V174.3" fill="none" stroke="#666" stroke-width="1"/>
<ellipse cx="630.3" cy="105.1" rx="15.3" ry="22.4" fill="#9391ff" filter="url(#blur)"/>
<ellipse cx="680.9" cy="85.5" rx="15.7" ry="25.5" fill="#42a0ff" filter="url(#blur)"/>
<ellipse cx="733.8" cy="74.3" rx="17.8" ry="27.3" fill="#28b2a1" filter="url(#blur)"/>
<path d="M604.80,174.3 V127.70" stroke="#c4686f" stroke-width="1.2" fill="none"/>
<path d="M629.80,174.3 V137.80" stroke="#c4686f" stroke-width="1.8" fill="none"/>
<path d="M650.90,174.3 V145.30" stroke="#c4686f" stroke-width="1.1" fill="none"/>
<path d="M654.50,174.3 V148.80" stroke="#c4686f" stroke-width="1.1" fill="none"/>
<path d="M672.80,174.3 V142.60" stroke="#c4686f" stroke-width="1.2" fill="none"/>
<path d="M683.40,174.3 V154.90" stroke="#c4686f" stroke-width="1.1" fill="none"/>
<path d="M708.20,174.3 V154.50" stroke="#c4686f" stroke-width="1.1" fill="none"/>
<path d="M733.10,174.3 V121.50" stroke="#c4686f" stroke-width="1.1" fill="none"/>
<path d="M758.10,174.3 V67.40" stroke="#c4686f" stroke-width="1.2" fill="none"/>
<path d="M785.00,174.3 V58.60" stroke="#c4686f" stroke-width="1.3" fill="none"/>
<path d="M583.2,35.5 V174.3 H788.7" fill="none" stroke="#333" stroke-width="1.1"/>
<path d="M584.90,174.3 v1.5 M593.82,174.3 v1.5 M602.73,174.3 v1.5 M611.65,174.3 v1.5 M620.57,174.3 v1.5 M629.48,174.3 v1.5 M638.40,174.3 v1.5 M647.32,174.3 v1.5 M656.23,174.3 v1.5 M665.15,174.3 v1.5 M674.07,174.3 v1.5 M682.98,174.3 v1.5 M691.90,174.3 v1.5 M700.82,174.3 v1.5 M709.73,174.3 v1.5 M718.65,174.3 v1.5 M727.57,174.3 v1.5 M736.48,174.3 v1.5 M745.40,174.3 v1.5 M754.32,174.3 v1.5 M763.23,174.3 v1.5 M772.15,174.3 v1.5 M781.07,174.3 v1.5 M583.2,173.00 h-1.5 M583.2,167.25 h-1.5 M583.2,161.50 h-1.5 M583.2,155.75 h-1.5 M583.2,150.00 h-1.5 M583.2,144.25 h-1.5 M583.2,138.50 h-1.5 M583.2,132.75 h-1.5 M583.2,127.00 h-1.5 M583.2,121.25 h-1.5 M583.2,115.50 h-1.5 M583.2,109.75 h-1.5 M583.2,104.00 h-1.5 M583.2,98.25 h-1.5 M583.2,92.50 h-1.5 M583.2,86.75 h-1.5 M583.2,81.00 h-1.5 M583.2,75.25 h-1.5 M583.2,69.50 h-1.5 M583.2,63.75 h-1.5 M583.2,58.00 h-1.5 M583.2,52.25 h-1.5 M583.2,46.50 h-1.5 M583.2,40.75 h-1.5 " stroke="#333" stroke-width="0.8" fill="none"/>
<text x="583.80" y="176.20" font-size="9.6" text-anchor="end" fill="#111" textLength="5.50" lengthAdjust="spacingAndGlyphs">0</text>
<text x="583.80" y="153.20" font-size="9.6" text-anchor="end" fill="#111" textLength="11.00" lengthAdjust="spacingAndGlyphs">20</text>
<text x="583.80" y="130.20" font-size="9.6" text-anchor="end" fill="#111" textLength="11.00" lengthAdjust="spacingAndGlyphs">40</text>
<text x="583.80" y="107.20" font-size="9.6" text-anchor="end" fill="#111" textLength="11.00" lengthAdjust="spacingAndGlyphs">60</text>
<text x="583.80" y="84.20" font-size="9.6" text-anchor="end" fill="#111" textLength="11.00" lengthAdjust="spacingAndGlyphs">80</text>
<text x="583.80" y="61.20" font-size="9.6" text-anchor="end" fill="#111" textLength="16.50" lengthAdjust="spacingAndGlyphs">100</text>
<text x="585.30" y="183.70" font-size="9.3" text-anchor="middle" fill="#111" textLength="12.20" lengthAdjust="spacingAndGlyphs">65</text>
<text x="612.05" y="183.70" font-size="9.3" text-anchor="middle" fill="#111" textLength="12.20" lengthAdjust="spacingAndGlyphs">80</text>
<text x="638.80" y="183.70" font-size="9.3" text-anchor="middle" fill="#111" textLength="12.20" lengthAdjust="spacingAndGlyphs">95</text>
<text x="665.55" y="183.70" font-size="9.3" text-anchor="middle" fill="#111" textLength="18.30" lengthAdjust="spacingAndGlyphs">110</text>
<text x="692.30" y="183.70" font-size="9.3" text-anchor="middle" fill="#111" textLength="18.30" lengthAdjust="spacingAndGlyphs">125</text>
<text x="719.05" y="183.70" font-size="9.3" text-anchor="middle" fill="#111" textLength="18.30" lengthAdjust="spacingAndGlyphs">140</text>
<text x="745.80" y="183.70" font-size="9.3" text-anchor="middle" fill="#111" textLength="18.30" lengthAdjust="spacingAndGlyphs">155</text>
<text x="772.55" y="183.70" font-size="9.3" text-anchor="middle" fill="#111" textLength="18.30" lengthAdjust="spacingAndGlyphs">170</text>
<text x="687.95" y="196.90" font-size="10" text-anchor="middle" fill="#111" textLength="40.00" lengthAdjust="spacingAndGlyphs">m/z [Da]</text>
<text x="766.90" y="197.10" font-size="12" text-anchor="start" fill="#111" textLength="22.50" lengthAdjust="spacingAndGlyphs">[M+]</text>
<text x="0" y="0" font-size="9.8" text-anchor="middle" fill="#111" transform="translate(560.90,101.90) rotate(-90)" textLength="39.50" lengthAdjust="spacingAndGlyphs">Intensity</text>
<text x="590.30" y="53.30" font-size="16.5" text-anchor="start" font-weight="bold" fill="#aca400" textLength="11.10" lengthAdjust="spacingAndGlyphs">A</text>
<text x="731.80" y="164.30" font-size="13.5" text-anchor="middle" font-weight="bold" fill="#9b6ef2" stroke="#9b6ef2" stroke-width="0.55" textLength="20.50" lengthAdjust="spacingAndGlyphs">149</text>
<text x="758.20" y="143.60" font-size="13.5" text-anchor="middle" font-weight="bold" fill="#1a66e6" stroke="#1a66e6" stroke-width="0.55" textLength="20.50" lengthAdjust="spacingAndGlyphs">163</text>
<text x="784.60" y="124.70" font-size="13.5" text-anchor="middle" font-weight="bold" fill="#127e74" stroke="#127e74" stroke-width="0.55" textLength="20.50" lengthAdjust="spacingAndGlyphs">178</text>
<path d="M839.5,35.5 H1044" fill="none" stroke="#8a8a8a" stroke-width="1"/><path d="M1044,35.5 V174.1" fill="none" stroke="#666" stroke-width="1"/>
<ellipse cx="961.5" cy="92.7" rx="39.0" ry="14.5" fill="#28b2a1" filter="url(#blur)"/>
<ellipse cx="914.8" cy="124.1" rx="39.0" ry="13.399999999999999" fill="#42a0ff" filter="url(#blur)"/>
<path d="M841.80,174.1 V127.00" stroke="#c4686f" stroke-width="1.2" fill="none"/>
<path d="M868.40,174.1 V152.10" stroke="#c4686f" stroke-width="1.1" fill="none"/>
<path d="M884.40,174.1 V154.10" stroke="#c4686f" stroke-width="1.1" fill="none"/>
<path d="M1017.40,174.1 V142.30" stroke="#c4686f" stroke-width="1.1" fill="none"/>
<path d="M1041.20,174.1 V58.60" stroke="#c4686f" stroke-width="1.2" fill="none"/>
<path d="M839.5,35.5 V174.1 H1044" fill="none" stroke="#333" stroke-width="1.1"/>
<path d="M842.70,174.1 v1.5 M850.66,174.1 v1.5 M858.62,174.1 v1.5 M866.58,174.1 v1.5 M874.54,174.1 v1.5 M882.50,174.1 v1.5 M890.46,174.1 v1.5 M898.42,174.1 v1.5 M906.38,174.1 v1.5 M914.34,174.1 v1.5 M922.30,174.1 v1.5 M930.26,174.1 v1.5 M938.22,174.1 v1.5 M946.18,174.1 v1.5 M954.14,174.1 v1.5 M962.10,174.1 v1.5 M970.06,174.1 v1.5 M978.02,174.1 v1.5 M985.98,174.1 v1.5 M993.94,174.1 v1.5 M1001.90,174.1 v1.5 M1009.86,174.1 v1.5 M1017.82,174.1 v1.5 M1025.78,174.1 v1.5 M1033.74,174.1 v1.5 M1041.70,174.1 v1.5 M839.5,173.50 h-1.5 M839.5,167.68 h-1.5 M839.5,161.85 h-1.5 M839.5,156.03 h-1.5 M839.5,150.20 h-1.5 M839.5,144.38 h-1.5 M839.5,138.55 h-1.5 M839.5,132.73 h-1.5 M839.5,126.90 h-1.5 M839.5,121.08 h-1.5 M839.5,115.25 h-1.5 M839.5,109.43 h-1.5 M839.5,103.60 h-1.5 M839.5,97.78 h-1.5 M839.5,91.95 h-1.5 M839.5,86.13 h-1.5 M839.5,80.30 h-1.5 M839.5,74.48 h-1.5 M839.5,68.65 h-1.5 M839.5,62.83 h-1.5 M839.5,57.00 h-1.5 M839.5,51.18 h-1.5 M839.5,45.35 h-1.5 M839.5,39.53 h-1.5 " stroke="#333" stroke-width="0.8" fill="none"/>
<text x="840.10" y="176.70" font-size="9.6" text-anchor="end" fill="#111" textLength="5.50" lengthAdjust="spacingAndGlyphs">0</text>
<text x="840.10" y="153.40" font-size="9.6" text-anchor="end" fill="#111" textLength="11.00" lengthAdjust="spacingAndGlyphs">20</text>
<text x="840.10" y="130.10" font-size="9.6" text-anchor="end" fill="#111" textLength="11.00" lengthAdjust="spacingAndGlyphs">40</text>
<text x="840.10" y="106.80" font-size="9.6" text-anchor="end" fill="#111" textLength="11.00" lengthAdjust="spacingAndGlyphs">60</text>
<text x="840.10" y="83.50" font-size="9.6" text-anchor="end" fill="#111" textLength="11.00" lengthAdjust="spacingAndGlyphs">80</text>
<text x="840.10" y="60.20" font-size="9.6" text-anchor="end" fill="#111" textLength="16.50" lengthAdjust="spacingAndGlyphs">100</text>
<text x="843.10" y="183.50" font-size="9.3" text-anchor="middle" fill="#111" textLength="12.20" lengthAdjust="spacingAndGlyphs">40</text>
<text x="866.98" y="183.50" font-size="9.3" text-anchor="middle" fill="#111" textLength="12.20" lengthAdjust="spacingAndGlyphs">55</text>
<text x="890.86" y="183.50" font-size="9.3" text-anchor="middle" fill="#111" textLength="12.20" lengthAdjust="spacingAndGlyphs">70</text>
<text x="914.74" y="183.50" font-size="9.3" text-anchor="middle" fill="#111" textLength="12.20" lengthAdjust="spacingAndGlyphs">85</text>
<text x="938.62" y="183.50" font-size="9.3" text-anchor="middle" fill="#111" textLength="18.30" lengthAdjust="spacingAndGlyphs">100</text>
<text x="962.50" y="183.50" font-size="9.3" text-anchor="middle" fill="#111" textLength="18.30" lengthAdjust="spacingAndGlyphs">115</text>
<text x="986.38" y="183.50" font-size="9.3" text-anchor="middle" fill="#111" textLength="18.30" lengthAdjust="spacingAndGlyphs">130</text>
<text x="1010.26" y="183.50" font-size="9.3" text-anchor="middle" fill="#111" textLength="18.30" lengthAdjust="spacingAndGlyphs">145</text>
<text x="1034.14" y="183.50" font-size="9.3" text-anchor="middle" fill="#111" textLength="18.30" lengthAdjust="spacingAndGlyphs">160</text>
<text x="943.75" y="196.70" font-size="10" text-anchor="middle" fill="#111" textLength="40.00" lengthAdjust="spacingAndGlyphs">m/z [Da]</text>
<text x="1022.20" y="196.90" font-size="12" text-anchor="start" fill="#111" textLength="22.50" lengthAdjust="spacingAndGlyphs">[M+]</text>
<text x="0" y="0" font-size="9.8" text-anchor="middle" fill="#111" transform="translate(816.90,101.80) rotate(-90)" textLength="39.50" lengthAdjust="spacingAndGlyphs">Intensity</text>
<text x="848.70" y="54.20" font-size="16.5" text-anchor="start" font-weight="bold" fill="#aca400" textLength="10.30" lengthAdjust="spacingAndGlyphs">B</text>
<text x="1017.00" y="165.80" font-size="13.5" text-anchor="middle" font-weight="bold" fill="#1a66e6" stroke="#1a66e6" stroke-width="0.55" textLength="20.50" lengthAdjust="spacingAndGlyphs">151</text>
<text x="1041.20" y="141.50" font-size="13.5" text-anchor="middle" font-weight="bold" fill="#127e74" stroke="#127e74" stroke-width="0.55" textLength="20.50" lengthAdjust="spacingAndGlyphs">166</text>
<path d="M583.2,213.4 H788.5" fill="none" stroke="#8a8a8a" stroke-width="1"/><path d="M788.5,213.4 V352.7" fill="none" stroke="#666" stroke-width="1"/>
<ellipse cx="625" cy="302" rx="15.2" ry="21.0" fill="#9391ff" filter="url(#blur)"/>
<ellipse cx="675.5" cy="272.8" rx="15.2" ry="24.2" fill="#42a0ff" filter="url(#blur)"/>
<ellipse cx="731.2" cy="255.3" rx="14.7" ry="22.3" fill="#28b2a1" filter="url(#blur)"/>
<path d="M675.40,352.7 V336.20" stroke="#c4686f" stroke-width="1.1" fill="none"/>
<path d="M682.80,352.7 V333.50" stroke="#c4686f" stroke-width="1.1" fill="none"/>
<path d="M734.20,352.7 V344.80" stroke="#c4686f" stroke-width="1.1" fill="none"/>
<path d="M758.40,352.7 V235.20" stroke="#c4686f" stroke-width="1.1" fill="none"/>
<path d="M760.20,352.7 V331.30" stroke="#c4686f" stroke-width="1.1" fill="none"/>
<path d="M783.70,352.7 V292.00" stroke="#c4686f" stroke-width="1.1" fill="none"/>
<path d="M785.40,352.7 V281.30" stroke="#c4686f" stroke-width="1.1" fill="none"/>
<path d="M583.2,213.4 V352.7 H788.5" fill="none" stroke="#333" stroke-width="1.1"/>
<path d="M588.20,352.7 v1.5 M597.00,352.7 v1.5 M605.80,352.7 v1.5 M614.60,352.7 v1.5 M623.40,352.7 v1.5 M632.20,352.7 v1.5 M641.00,352.7 v1.5 M649.80,352.7 v1.5 M658.60,352.7 v1.5 M667.40,352.7 v1.5 M676.20,352.7 v1.5 M685.00,352.7 v1.5 M693.80,352.7 v1.5 M702.60,352.7 v1.5 M711.40,352.7 v1.5 M720.20,352.7 v1.5 M729.00,352.7 v1.5 M737.80,352.7 v1.5 M746.60,352.7 v1.5 M755.40,352.7 v1.5 M764.20,352.7 v1.5 M773.00,352.7 v1.5 M781.80,352.7 v1.5 M583.2,350.60 h-1.5 M583.2,344.84 h-1.5 M583.2,339.08 h-1.5 M583.2,333.31 h-1.5 M583.2,327.55 h-1.5 M583.2,321.79 h-1.5 M583.2,316.03 h-1.5 M583.2,310.26 h-1.5 M583.2,304.50 h-1.5 M583.2,298.74 h-1.5 M583.2,292.98 h-1.5 M583.2,287.21 h-1.5 M583.2,281.45 h-1.5 M583.2,275.69 h-1.5 M583.2,269.93 h-1.5 M583.2,264.16 h-1.5 M583.2,258.40 h-1.5 M583.2,252.64 h-1.5 M583.2,246.88 h-1.5 M583.2,241.11 h-1.5 M583.2,235.35 h-1.5 M583.2,229.59 h-1.5 M583.2,223.83 h-1.5 M583.2,218.06 h-1.5 " stroke="#333" stroke-width="0.8" fill="none"/>
<text x="583.80" y="353.80" font-size="9.6" text-anchor="end" fill="#111" textLength="5.50" lengthAdjust="spacingAndGlyphs">0</text>
<text x="583.80" y="330.75" font-size="9.6" text-anchor="end" fill="#111" textLength="11.00" lengthAdjust="spacingAndGlyphs">20</text>
<text x="583.80" y="307.70" font-size="9.6" text-anchor="end" fill="#111" textLength="11.00" lengthAdjust="spacingAndGlyphs">40</text>
<text x="583.80" y="284.65" font-size="9.6" text-anchor="end" fill="#111" textLength="11.00" lengthAdjust="spacingAndGlyphs">60</text>
<text x="583.80" y="261.60" font-size="9.6" text-anchor="end" fill="#111" textLength="11.00" lengthAdjust="spacingAndGlyphs">80</text>
<text x="583.80" y="238.55" font-size="9.6" text-anchor="end" fill="#111" textLength="16.50" lengthAdjust="spacingAndGlyphs">100</text>
<text x="588.60" y="362.10" font-size="9.3" text-anchor="middle" fill="#111" textLength="12.20" lengthAdjust="spacingAndGlyphs">65</text>
<text x="615.00" y="362.10" font-size="9.3" text-anchor="middle" fill="#111" textLength="12.20" lengthAdjust="spacingAndGlyphs">80</text>
<text x="641.40" y="362.10" font-size="9.3" text-anchor="middle" fill="#111" textLength="12.20" lengthAdjust="spacingAndGlyphs">95</text>
<text x="667.80" y="362.10" font-size="9.3" text-anchor="middle" fill="#111" textLength="18.30" lengthAdjust="spacingAndGlyphs">110</text>
<text x="694.20" y="362.10" font-size="9.3" text-anchor="middle" fill="#111" textLength="18.30" lengthAdjust="spacingAndGlyphs">125</text>
<text x="720.60" y="362.10" font-size="9.3" text-anchor="middle" fill="#111" textLength="18.30" lengthAdjust="spacingAndGlyphs">140</text>
<text x="747.00" y="362.10" font-size="9.3" text-anchor="middle" fill="#111" textLength="18.30" lengthAdjust="spacingAndGlyphs">155</text>
<text x="773.40" y="362.10" font-size="9.3" text-anchor="middle" fill="#111" textLength="18.30" lengthAdjust="spacingAndGlyphs">170</text>
<text x="687.85" y="375.30" font-size="10" text-anchor="middle" fill="#111" textLength="40.00" lengthAdjust="spacingAndGlyphs">m/z [Da]</text>
<text x="766.70" y="375.50" font-size="12" text-anchor="start" fill="#111" textLength="22.50" lengthAdjust="spacingAndGlyphs">[M+]</text>
<text x="0" y="0" font-size="9.8" text-anchor="middle" fill="#111" transform="translate(560.90,280.05) rotate(-90)" textLength="39.50" lengthAdjust="spacingAndGlyphs">Intensity</text>
<text x="594.60" y="229.10" font-size="16.5" text-anchor="start" font-weight="bold" fill="#aca400" textLength="10.30" lengthAdjust="spacingAndGlyphs">C</text>
<text x="733.10" y="344.30" font-size="13.5" text-anchor="middle" font-weight="bold" fill="#9b6ef2" stroke="#9b6ef2" stroke-width="0.55" textLength="20.50" lengthAdjust="spacingAndGlyphs">148</text>
<text x="759.00" y="322.10" font-size="13.5" text-anchor="middle" font-weight="bold" fill="#1a66e6" stroke="#1a66e6" stroke-width="0.55" textLength="20.50" lengthAdjust="spacingAndGlyphs">162</text>
<text x="784.90" y="308.70" font-size="13.5" text-anchor="middle" font-weight="bold" fill="#127e74" stroke="#127e74" stroke-width="0.55" textLength="20.50" lengthAdjust="spacingAndGlyphs">177</text>
<path d="M839,212.5 H1044.3" fill="none" stroke="#8a8a8a" stroke-width="1"/><path d="M1044.3,212.5 V351.2" fill="none" stroke="#666" stroke-width="1"/>
<ellipse cx="875.5" cy="268.8" rx="37.5" ry="15.0" fill="#9391ff" filter="url(#blur)"/>
<ellipse cx="949.9" cy="253.5" rx="36.0" ry="13.399999999999999" fill="#42a0ff" filter="url(#blur)"/>
<ellipse cx="1008" cy="229.5" rx="38.0" ry="13.0" fill="#28b2a1" filter="url(#blur)"/>
<path d="M841.50,351.2 V235.30" stroke="#c4686f" stroke-width="1.2" fill="none"/>
<path d="M846.50,351.2 V300.60" stroke="#c4686f" stroke-width="1.1" fill="none"/>
<path d="M848.10,351.2 V307.50" stroke="#c4686f" stroke-width="1.1" fill="none"/>
<path d="M862.40,351.2 V286.90" stroke="#c4686f" stroke-width="1.1" fill="none"/>
<path d="M923.30,351.2 V289.60" stroke="#c4686f" stroke-width="1.1" fill="none"/>
<path d="M968.10,351.2 V291.00" stroke="#c4686f" stroke-width="1.1" fill="none"/>
<path d="M996.60,351.2 V256.30" stroke="#c4686f" stroke-width="1.1" fill="none"/>
<path d="M1020.80,351.2 V286.00" stroke="#c4686f" stroke-width="1.1" fill="none"/>
<path d="M1041.90,351.2 V292.40" stroke="#c4686f" stroke-width="1.1" fill="none"/>
<path d="M839,212.5 V351.2 H1044.3" fill="none" stroke="#333" stroke-width="1.1"/>
<path d="M843.70,351.2 v1.5 M851.65,351.2 v1.5 M859.60,351.2 v1.5 M867.55,351.2 v1.5 M875.50,351.2 v1.5 M883.45,351.2 v1.5 M891.40,351.2 v1.5 M899.35,351.2 v1.5 M907.30,351.2 v1.5 M915.25,351.2 v1.5 M923.20,351.2 v1.5 M931.15,351.2 v1.5 M939.10,351.2 v1.5 M947.05,351.2 v1.5 M955.00,351.2 v1.5 M962.95,351.2 v1.5 M970.90,351.2 v1.5 M978.85,351.2 v1.5 M986.80,351.2 v1.5 M994.75,351.2 v1.5 M1002.70,351.2 v1.5 M1010.65,351.2 v1.5 M1018.60,351.2 v1.5 M1026.55,351.2 v1.5 M1034.50,351.2 v1.5 M1042.45,351.2 v1.5 M839,350.60 h-1.5 M839,344.83 h-1.5 M839,339.05 h-1.5 M839,333.28 h-1.5 M839,327.50 h-1.5 M839,321.73 h-1.5 M839,315.95 h-1.5 M839,310.18 h-1.5 M839,304.40 h-1.5 M839,298.63 h-1.5 M839,292.85 h-1.5 M839,287.08 h-1.5 M839,281.30 h-1.5 M839,275.53 h-1.5 M839,269.75 h-1.5 M839,263.98 h-1.5 M839,258.20 h-1.5 M839,252.43 h-1.5 M839,246.65 h-1.5 M839,240.88 h-1.5 M839,235.10 h-1.5 M839,229.33 h-1.5 M839,223.55 h-1.5 M839,217.78 h-1.5 " stroke="#333" stroke-width="0.8" fill="none"/>
<text x="839.60" y="353.80" font-size="9.6" text-anchor="end" fill="#111" textLength="5.50" lengthAdjust="spacingAndGlyphs">0</text>
<text x="839.60" y="330.70" font-size="9.6" text-anchor="end" fill="#111" textLength="11.00" lengthAdjust="spacingAndGlyphs">20</text>
<text x="839.60" y="307.60" font-size="9.6" text-anchor="end" fill="#111" textLength="11.00" lengthAdjust="spacingAndGlyphs">40</text>
<text x="839.60" y="284.50" font-size="9.6" text-anchor="end" fill="#111" textLength="11.00" lengthAdjust="spacingAndGlyphs">60</text>
<text x="839.60" y="261.40" font-size="9.6" text-anchor="end" fill="#111" textLength="11.00" lengthAdjust="spacingAndGlyphs">80</text>
<text x="839.60" y="238.30" font-size="9.6" text-anchor="end" fill="#111" textLength="16.50" lengthAdjust="spacingAndGlyphs">100</text>
<text x="844.10" y="360.60" font-size="9.3" text-anchor="middle" fill="#111" textLength="12.20" lengthAdjust="spacingAndGlyphs">40</text>
<text x="867.95" y="360.60" font-size="9.3" text-anchor="middle" fill="#111" textLength="12.20" lengthAdjust="spacingAndGlyphs">55</text>
<text x="891.80" y="360.60" font-size="9.3" text-anchor="middle" fill="#111" textLength="12.20" lengthAdjust="spacingAndGlyphs">70</text>
<text x="915.65" y="360.60" font-size="9.3" text-anchor="middle" fill="#111" textLength="12.20" lengthAdjust="spacingAndGlyphs">85</text>
<text x="939.50" y="360.60" font-size="9.3" text-anchor="middle" fill="#111" textLength="18.30" lengthAdjust="spacingAndGlyphs">100</text>
<text x="963.35" y="360.60" font-size="9.3" text-anchor="middle" fill="#111" textLength="18.30" lengthAdjust="spacingAndGlyphs">115</text>
<text x="987.20" y="360.60" font-size="9.3" text-anchor="middle" fill="#111" textLength="18.30" lengthAdjust="spacingAndGlyphs">130</text>
<text x="1011.05" y="360.60" font-size="9.3" text-anchor="middle" fill="#111" textLength="18.30" lengthAdjust="spacingAndGlyphs">145</text>
<text x="1034.90" y="360.60" font-size="9.3" text-anchor="middle" fill="#111" textLength="18.30" lengthAdjust="spacingAndGlyphs">160</text>
<text x="943.65" y="373.80" font-size="10" text-anchor="middle" fill="#111" textLength="40.00" lengthAdjust="spacingAndGlyphs">m/z [Da]</text>
<text x="1022.50" y="374.00" font-size="12" text-anchor="start" fill="#111" textLength="22.50" lengthAdjust="spacingAndGlyphs">[M+]</text>
<text x="0" y="0" font-size="9.8" text-anchor="middle" fill="#111" transform="translate(816.60,278.85) rotate(-90)" textLength="39.50" lengthAdjust="spacingAndGlyphs">Intensity</text>
<text x="848.10" y="230.10" font-size="16.5" text-anchor="start" font-weight="bold" fill="#aca400" textLength="10.90" lengthAdjust="spacingAndGlyphs">D</text>
<text x="997.50" y="342.20" font-size="13.5" text-anchor="middle" font-weight="bold" fill="#9b6ef2" stroke="#9b6ef2" stroke-width="0.55" textLength="20.50" lengthAdjust="spacingAndGlyphs">137</text>
<text x="1020.80" y="328.40" font-size="13.5" text-anchor="middle" font-weight="bold" fill="#1a66e6" stroke="#1a66e6" stroke-width="0.55" textLength="20.50" lengthAdjust="spacingAndGlyphs">152</text>
<text x="1041.40" y="312.00" font-size="13.5" text-anchor="middle" font-weight="bold" fill="#127e74" stroke="#127e74" stroke-width="0.55" textLength="20.50" lengthAdjust="spacingAndGlyphs">165</text>
<path d="M630.40,90.50L640.36,96.25L640.36,107.75L630.40,113.50L620.44,107.75L620.44,96.25L630.40,90.50M631.33,93.57L637.24,96.98M637.24,107.02L631.33,110.43M622.63,105.41L622.63,98.59M630.40,90.50L630.40,79.50M630.40,113.50L630.40,122.30M626.30,128.80L620.40,132.20L610.90,126.80M610.90,126.80L610.90,119.60M608.50,126.80L608.50,119.60M681.50,71.40L691.55,77.20L691.55,88.80L681.50,94.60L671.45,88.80L671.45,77.20L681.50,71.40M682.44,74.49L688.40,77.93M688.40,88.07L682.44,91.51M673.66,86.44L673.66,79.56M681.50,71.40L681.50,59.40M681.50,94.60L681.50,102.60M677.60,108.60L672.20,110.60L661.00,104.20L651.30,109.70M661.00,104.20L661.00,97.80M658.60,104.20L658.60,97.80M733.20,55.70L743.07,61.40L743.07,72.80L733.20,78.50L723.33,72.80L723.33,61.40L733.20,55.70M734.12,58.74L739.98,62.12M739.98,72.08L734.12,75.46M725.50,70.48L725.50,63.72M733.20,55.70L733.20,44.70M733.20,78.50L733.00,86.60M736.20,93.60L743.50,96.60M729.00,93.60L725.00,96.20L714.00,90.60L703.10,96.60M714.00,90.60L714.00,84.20" fill="none" stroke="#3b3b55" stroke-width="1.15" stroke-linecap="round" stroke-linejoin="round"/>
<text x="627.00" y="129.60" font-size="9.2" text-anchor="start" fill="#3b3b55" textLength="12.4" lengthAdjust="spacingAndGlyphs">NH</text>
<text x="611.00" y="118.40" font-size="8.8" text-anchor="middle" fill="#3b3b55">O</text>
<text x="678.20" y="109.60" font-size="9.2" text-anchor="start" fill="#3b3b55" textLength="12.4" lengthAdjust="spacingAndGlyphs">NH</text>
<text x="660.90" y="96.80" font-size="8.8" text-anchor="middle" fill="#3b3b55">O</text>
<text x="732.60" y="94.50" font-size="8.8" text-anchor="middle" fill="#3b3b55">N</text>
<text x="715.70" y="82.20" font-size="8.8" text-anchor="middle" fill="#3b3b55" textLength="11.5" lengthAdjust="spacingAndGlyphs">OH</text>
<circle cx="747" cy="97" r="0.7" fill="#3b3b55"/>
<path d="M944.30,80.30L954.26,86.05L954.26,97.55L944.30,103.30L934.34,97.55L934.34,86.05L944.30,80.30M945.23,83.37L951.14,86.78M951.14,96.82L945.23,100.23M936.53,95.21L936.53,88.39M934.30,86.05L929.20,83.20M954.30,97.55L964.30,103.30L974.30,97.55L981.80,101.80M974.30,97.55L974.30,89.30M976.70,97.55L976.70,89.30M988.20,101.80L996.10,97.40M901.90,111.10L911.95,116.90L911.95,128.50L901.90,134.30L891.85,128.50L891.85,116.90L901.90,111.10M902.84,114.19L908.80,117.63M908.80,127.77L902.84,131.21M894.06,126.14L894.06,119.26M891.85,116.90L886.80,114.00M911.95,128.50L922.00,134.30L932.10,128.50L939.30,132.70M932.10,128.50L932.10,120.20M934.50,128.50L934.50,120.20" fill="none" stroke="#3b3b55" stroke-width="1.15" stroke-linecap="round" stroke-linejoin="round"/>
<text x="927.80" y="83.40" font-size="8.8" text-anchor="end" fill="#3b3b55" textLength="12" lengthAdjust="spacingAndGlyphs">HO</text>
<text x="974.50" y="88.30" font-size="8.8" text-anchor="middle" fill="#3b3b55">O</text>
<text x="985.00" y="106.10" font-size="8.8" text-anchor="middle" fill="#3b3b55">O</text>
<text x="884.60" y="114.60" font-size="8.8" text-anchor="end" fill="#3b3b55" textLength="11.6" lengthAdjust="spacingAndGlyphs">HO</text>
<text x="932.30" y="119.40" font-size="8.8" text-anchor="middle" fill="#3b3b55">O</text>
<text x="942.70" y="137.20" font-size="8.8" text-anchor="middle" fill="#3b3b55">O</text>
<circle cx="946.8" cy="131.4" r="0.7" fill="#3b3b55"/>
<circle cx="601" cy="313.6" r="0.7" fill="#3b3b55"/>
<circle cx="652.2" cy="290" r="0.7" fill="#3b3b55"/>
<circle cx="915.8" cy="239.4" r="0.7" fill="#3b3b55"/>
<path d="M623.70,278.50L633.66,284.25L633.66,295.75L623.70,301.50L613.74,295.75L613.74,284.25L623.70,278.50M624.63,281.57L630.54,284.98M630.54,295.02L624.63,298.43M615.93,293.41L615.93,286.59M623.70,278.50L623.70,267.60M623.70,301.50L623.70,309.60M620.00,316.00L614.60,319.40L605.60,313.60M605.60,313.60L605.60,306.40M603.20,313.60L603.20,306.40M675.00,255.10L684.96,260.85L684.96,272.35L675.00,278.10L665.04,272.35L665.04,260.85L675.00,255.10M675.93,258.17L681.84,261.58M681.84,271.62L675.93,275.03M667.23,270.01L667.23,263.19M675.00,255.10L675.00,242.00M675.00,278.10L675.00,285.40M678.20,291.60L684.80,294.60M671.00,291.60L665.20,294.60L657.00,288.40M657.00,288.40L657.00,281.20M659.40,288.40L659.40,281.20M731.00,236.70L740.96,242.45L740.96,253.95L731.00,259.70L721.04,253.95L721.04,242.45L731.00,236.70M731.93,239.77L737.84,243.18M737.84,253.22L731.93,256.63M723.23,251.61L723.23,244.79M731.00,236.70L731.00,223.80M731.00,259.70L731.00,266.80M734.60,272.60L742.10,275.40M727.40,272.60L722.00,275.20L711.90,269.20L701.80,275.20M711.90,269.20L711.90,262.20M709.50,269.20L709.50,262.20M857.20,258.80L867.59,264.80L867.59,276.80L857.20,282.80L846.81,276.80L846.81,264.80L857.20,258.80M858.17,262.00L864.33,265.56M864.33,276.04L858.17,279.60M849.09,274.36L849.09,267.24M867.60,264.80L877.10,258.80L887.10,264.40L894.20,260.60M887.10,264.40L887.10,271.40M933.20,242.60L943.16,248.35L943.16,259.85L933.20,265.60L923.24,259.85L923.24,248.35L933.20,242.60M934.13,245.67L940.04,249.08M940.04,259.12L934.13,262.53M925.43,257.51L925.43,250.69M923.20,248.35L916.60,245.00M943.20,248.35L952.60,242.70L962.60,248.40L969.20,245.00M962.60,248.40L962.60,255.20M958.00,224.60L964.60,221.40M972.40,221.40L978.90,224.25M988.90,218.50L998.86,224.25L998.86,235.75L988.90,241.50L978.94,235.75L978.94,224.25L988.90,218.50M989.83,221.57L995.74,224.98M995.74,235.02L989.83,238.43M981.13,233.41L981.13,226.59M998.90,224.25L1008.80,218.50L1018.80,224.25L1025.80,220.60M1018.80,224.25L1018.80,232.30M1016.40,224.25L1016.40,232.30" fill="none" stroke="#3b3b55" stroke-width="1.15" stroke-linecap="round" stroke-linejoin="round"/>
<text x="620.60" y="316.90" font-size="9.2" text-anchor="start" fill="#3b3b55" textLength="12.4" lengthAdjust="spacingAndGlyphs">NH</text>
<text x="604.90" y="305.40" font-size="8.8" text-anchor="middle" fill="#3b3b55">O</text>
<text x="674.60" y="292.50" font-size="8.8" text-anchor="middle" fill="#3b3b55">N</text>
<text x="655.60" y="280.40" font-size="8.8" text-anchor="middle" fill="#3b3b55">O</text>
<text x="731.00" y="273.50" font-size="8.8" text-anchor="middle" fill="#3b3b55">N</text>
<text x="711.90" y="261.30" font-size="8.8" text-anchor="middle" fill="#3b3b55">O</text>
<text x="894.30" y="262.60" font-size="8.8" text-anchor="start" fill="#3b3b55">NH<tspan font-size="6" dy="2">2</tspan></text>
<text x="889.60" y="280.00" font-size="8.8" text-anchor="middle" fill="#3b3b55" textLength="11.5" lengthAdjust="spacingAndGlyphs">OH</text>
<text x="912.40" y="246.10" font-size="8.8" text-anchor="middle" fill="#3b3b55">O</text>
<text x="969.40" y="246.80" font-size="8.8" text-anchor="start" fill="#3b3b55">NH<tspan font-size="6" dy="2">2</tspan></text>
<text x="965.80" y="263.80" font-size="8.8" text-anchor="middle" fill="#3b3b55" textLength="11.5" lengthAdjust="spacingAndGlyphs">OH</text>
<text x="968.50" y="222.40" font-size="8.8" text-anchor="middle" fill="#3b3b55">O</text>
<text x="1026.20" y="222.80" font-size="8.8" text-anchor="start" fill="#3b3b55">NH<tspan font-size="6" dy="2">2</tspan></text>
<text x="1018.80" y="239.30" font-size="8.8" text-anchor="middle" fill="#3b3b55">O</text>
</svg></body></html>
